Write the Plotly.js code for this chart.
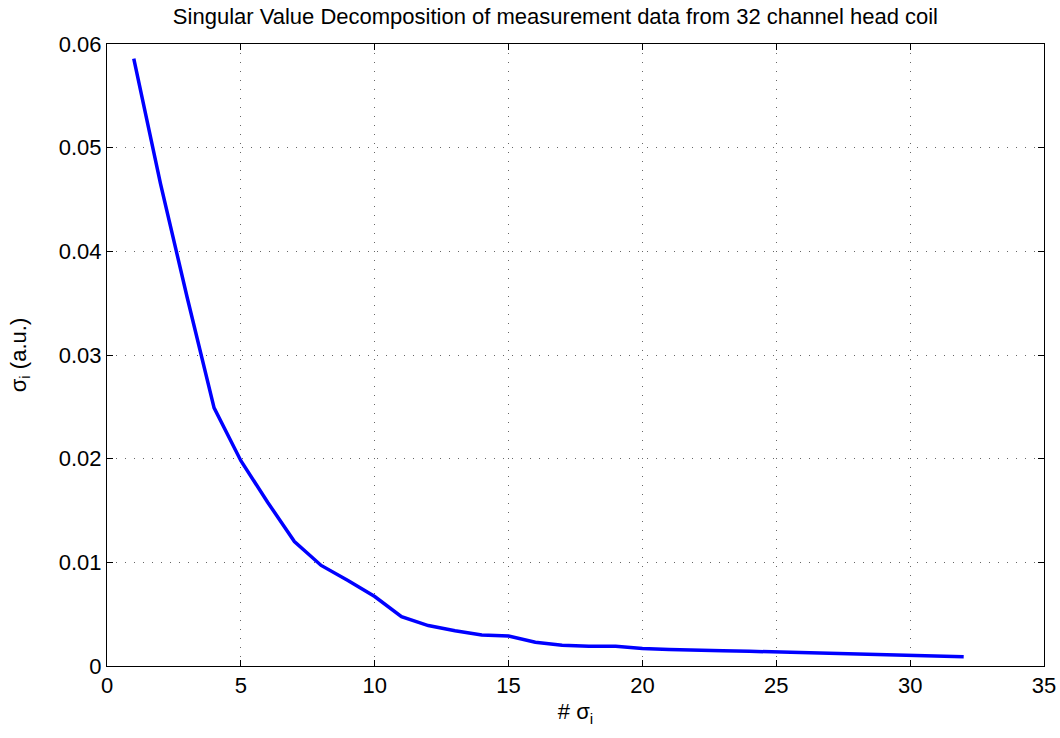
<!DOCTYPE html>
<html>
<head>
<meta charset="utf-8">
<script src="https://cdn.plot.ly/plotly-3.0.1.min.js"></script>
<style>html,body{margin:0;padding:0;background:#fff;}#chart{width:1060px;height:738px;}</style>
</head>
<body>
<div id="chart"></div>
<script>
// Singular value index and magnitude (a.u.)
const svIndex = [1,2,3,4,5,6,7,8,9,10,11,12,13,14,15,16,17,18,19,20,21,22,23,24,25,26,27,28,29,30,31,32];
const svValue = [0.0586,0.0465,0.0355,0.0249,0.0198,0.0158,0.0120,0.0097,0.00825,0.0067,0.00476,0.0039,0.0034,0.0030,0.0029,0.0023,0.0020,0.0019,0.0019,0.0017,0.0016,0.0015,0.00148,0.00142,0.00135,0.0013,0.0012,0.00115,0.0011,0.00103,0.00097,0.0009];
const xTicks = [0,5,10,15,20,25,30,35];
const yTicks = [0,0.01,0.02,0.03,0.04,0.05,0.06];
const yTickText = ['0','0.01','0.02','0.03','0.04','0.05','0.06'];

const fontFam = 'Liberation Sans, Arial, Helvetica, sans-serif';

const trace = {
  x: svIndex, y: svValue, type: 'scatter', mode: 'lines',
  line: {color: '#0000ff', width: 3.5}, hoverinfo: 'skip'
};

const axisCommon = {
  showline: true, linecolor: '#000', linewidth: 1, mirror: 'ticks',
  ticks: 'inside', ticklen: 6, tickcolor: '#000', tickwidth: 1,
  showgrid: true, gridcolor: '#666', gridwidth: 1, griddash: '1px,8px',
  zeroline: false, tickfont: {family: fontFam, size: 22, color: '#000'}
};

const layout = {
  width: 1060, height: 738,
  margin: {l: 107, r: 16, t: 44, b: 72},
  paper_bgcolor: '#fff', plot_bgcolor: '#fff',
  showlegend: false,
  title: {text: 'Singular Value Decomposition of measurement data from 32 channel head coil',
          font: {family: fontFam, size: 22, color: '#000'},
          x: 0.524, xanchor: 'center', y: 0.978, yanchor: 'middle'},
  xaxis: Object.assign({}, axisCommon, {
    range: [0, 35], tickvals: xTicks, ticktext: xTicks.map(String),
    title: {text: '# σ<sub>i</sub>', font: {family: fontFam, size: 22, color: '#000'}, standoff: 6}
  }),
  yaxis: Object.assign({}, axisCommon, {
    range: [0, 0.06], tickvals: yTicks, ticktext: yTickText,
    title: {text: 'σ<sub>i</sub> (a.u.)', font: {family: fontFam, size: 22, color: '#000'}, standoff: 26}
  })
};

Plotly.newPlot('chart', [trace], layout, {displayModeBar: false, staticPlot: true});
</script>
</body>
</html>
